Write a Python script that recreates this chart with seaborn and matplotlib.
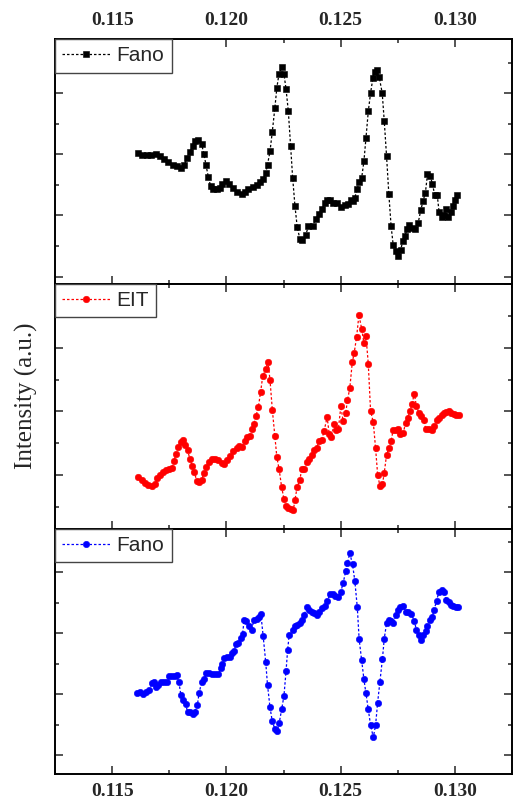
import matplotlib
matplotlib.use("Agg")
import matplotlib.pyplot as plt
from matplotlib.ticker import MultipleLocator, FormatStrFormatter
import pandas as pd
import seaborn as sns

# top panel: Fano (black squares)
fano_top_x = [0.11612, 0.11629, 0.11651, 0.11670, 0.11692, 0.11709, 0.11728, 0.11746, 0.11765, 0.11782,
              0.11801, 0.11816, 0.11829, 0.11841, 0.11852, 0.11864, 0.11878, 0.11892, 0.11902, 0.11911,
              0.11921, 0.11931, 0.11943, 0.11957, 0.11972, 0.11983, 0.11998, 0.12013, 0.12027, 0.12045,
              0.12067, 0.12081, 0.12096, 0.12115, 0.12132, 0.12147, 0.12161, 0.12172, 0.12180, 0.12191,
              0.12201, 0.12212, 0.12221, 0.12230, 0.12242, 0.12252, 0.12261, 0.12271, 0.12281, 0.12290,
              0.12300, 0.12310, 0.12322, 0.12332, 0.12347, 0.12359, 0.12377, 0.12392, 0.12407, 0.12419,
              0.12431, 0.12441, 0.12453, 0.12468, 0.12486, 0.12501, 0.12519, 0.12534, 0.12546, 0.12552,
              0.12562, 0.12573, 0.12581, 0.12592, 0.12602, 0.12611, 0.12621, 0.12631, 0.12641, 0.12650,
              0.12660, 0.12669, 0.12682, 0.12691, 0.12701, 0.12711, 0.12721, 0.12730, 0.12741, 0.12751,
              0.12763, 0.12772, 0.12782, 0.12791, 0.12801, 0.12812, 0.12824, 0.12839, 0.12851, 0.12861,
              0.12871, 0.12880, 0.12892, 0.12902, 0.12912, 0.12923, 0.12931, 0.12943, 0.12953, 0.12961,
              0.12971, 0.12981, 0.12991, 0.13001, 0.13011]
fano_top_y = [3.02, 2.98, 2.99, 2.99, 3.00, 2.97, 2.92, 2.87, 2.82, 2.81,
              2.78, 2.83, 2.94, 3.03, 3.13, 3.21, 3.24, 3.16, 3.00, 2.82,
              2.63, 2.48, 2.44, 2.44, 2.45, 2.51, 2.56, 2.52, 2.45, 2.38,
              2.35, 2.38, 2.43, 2.47, 2.50, 2.54, 2.59, 2.69, 2.83, 3.05,
              3.37, 3.75, 4.09, 4.31, 4.42, 4.31, 4.07, 3.71, 3.14, 2.62,
              2.16, 1.81, 1.61, 1.60, 1.68, 1.82, 1.83, 1.94, 2.02, 2.10,
              2.20, 2.26, 2.25, 2.21, 2.20, 2.13, 2.17, 2.18, 2.25, 2.24,
              2.29, 2.44, 2.54, 2.61, 2.89, 3.27, 3.70, 4.00, 4.24, 4.35,
              4.38, 4.26, 4.00, 3.54, 2.97, 2.35, 1.82, 1.52, 1.42, 1.33,
              1.44, 1.58, 1.67, 1.77, 1.85, 1.80, 1.78, 1.87, 2.09, 2.24,
              2.37, 2.67, 2.65, 2.51, 2.33, 2.33, 2.05, 1.98, 2.00, 2.10,
              1.97, 2.06, 2.16, 2.25, 2.33]

# middle panel: EIT (red circles)
eit_x = [0.11615, 0.11629, 0.11644, 0.11659, 0.11673, 0.11688, 0.11698, 0.11709, 0.11721, 0.11736,
         0.11750, 0.11762, 0.11771, 0.11779, 0.11790, 0.11801, 0.11811, 0.11821, 0.11830, 0.11841,
         0.11851, 0.11860, 0.11870, 0.11881, 0.11892, 0.11902, 0.11913, 0.11925, 0.11935, 0.11950,
         0.11965, 0.11979, 0.11989, 0.12001, 0.12016, 0.12030, 0.12045, 0.12056, 0.12070, 0.12081,
         0.12091, 0.12103, 0.12112, 0.12121, 0.12130, 0.12140, 0.12150, 0.12159, 0.12172, 0.12182,
         0.12191, 0.12201, 0.12212, 0.12221, 0.12231, 0.12242, 0.12252, 0.12261, 0.12271, 0.12282,
         0.12293, 0.12300, 0.12310, 0.12322, 0.12329, 0.12339, 0.12351, 0.12363, 0.12373, 0.12383,
         0.12395, 0.12406, 0.12417, 0.12428, 0.12441, 0.12450, 0.12460, 0.12471, 0.12479, 0.12490,
         0.12501, 0.12511, 0.12522, 0.12530, 0.12540, 0.12551, 0.12559, 0.12570, 0.12580, 0.12592,
         0.12602, 0.12611, 0.12621, 0.12631, 0.12643, 0.12653, 0.12662, 0.12672, 0.12683, 0.12691,
         0.12701, 0.12711, 0.12721, 0.12730, 0.12742, 0.12752, 0.12762, 0.12774, 0.12784, 0.12793,
         0.12803, 0.12813, 0.12822, 0.12832, 0.12842, 0.12853, 0.12864, 0.12873, 0.12885, 0.12898,
         0.12908, 0.12920, 0.12930, 0.12942, 0.12952, 0.12963, 0.12974, 0.12982, 0.12996, 0.13007,
         0.13018]
eit_y = [0.97, 0.93, 0.88, 0.84, 0.83, 0.86, 0.95, 1.00, 1.05, 1.08,
         1.10, 1.12, 1.22, 1.34, 1.45, 1.52, 1.55, 1.47, 1.39, 1.25,
         1.14, 1.05, 0.91, 0.90, 0.93, 1.04, 1.13, 1.21, 1.26, 1.26,
         1.24, 1.19, 1.17, 1.24, 1.30, 1.38, 1.42, 1.46, 1.45, 1.54,
         1.60, 1.62, 1.73, 1.81, 1.93, 2.07, 2.31, 2.55, 2.66, 2.78,
         2.49, 2.03, 1.61, 1.28, 1.09, 0.81, 0.63, 0.52, 0.49, 0.47,
         0.45, 0.61, 0.82, 0.93, 1.09, 1.10, 1.21, 1.25, 1.31, 1.39,
         1.43, 1.54, 1.55, 1.70, 1.91, 1.65, 1.60, 1.80, 1.71, 1.72,
         2.08, 1.85, 1.97, 2.18, 2.36, 2.77, 2.91, 3.17, 3.51, 3.30,
         3.07, 3.18, 2.75, 2.01, 1.83, 1.42, 1.01, 0.83, 0.86, 1.04,
         1.32, 1.42, 1.54, 1.71, 1.71, 1.72, 1.65, 1.66, 1.82, 1.90,
         2.01, 2.12, 2.28, 2.08, 1.98, 1.93, 1.86, 1.72, 1.72, 1.71,
         1.77, 1.86, 1.90, 1.94, 1.98, 1.99, 2.01, 1.98, 1.96, 1.94,
         1.94]

# bottom panel: Fano (blue circles)
fano_bot_x = [0.11607, 0.11622, 0.11634, 0.11648, 0.11663, 0.11673, 0.11683, 0.11692, 0.11702, 0.11714,
              0.11727, 0.11739, 0.11750, 0.11762, 0.11775, 0.11782, 0.11792, 0.11801, 0.11811, 0.11822,
              0.11830, 0.11841, 0.11852, 0.11862, 0.11873, 0.11881, 0.11892, 0.11902, 0.11913, 0.11925,
              0.11938, 0.11950, 0.11965, 0.11975, 0.11983, 0.11991, 0.12001, 0.12016, 0.12023, 0.12033,
              0.12042, 0.12052, 0.12062, 0.12071, 0.12078, 0.12088, 0.12100, 0.12110, 0.12121, 0.12132,
              0.12142, 0.12151, 0.12161, 0.12172, 0.12180, 0.12191, 0.12201, 0.12212, 0.12223, 0.12231,
              0.12242, 0.12252, 0.12261, 0.12268, 0.12275, 0.12290, 0.12300, 0.12310, 0.12322, 0.12332,
              0.12341, 0.12351, 0.12363, 0.12373, 0.12383, 0.12395, 0.12406, 0.12419, 0.12431, 0.12441,
              0.12453, 0.12465, 0.12475, 0.12487, 0.12501, 0.12511, 0.12522, 0.12530, 0.12540, 0.12552,
              0.12562, 0.12573, 0.12581, 0.12592, 0.12602, 0.12611, 0.12621, 0.12631, 0.12643, 0.12653,
              0.12662, 0.12672, 0.12683, 0.12691, 0.12701, 0.12711, 0.12720, 0.12730, 0.12742, 0.12752,
              0.12762, 0.12774, 0.12784, 0.12796, 0.12810, 0.12822, 0.12832, 0.12842, 0.12851, 0.12861,
              0.12872, 0.12880, 0.12890, 0.12901, 0.12909, 0.12920, 0.12930, 0.12942, 0.12953, 0.12963,
              0.12974, 0.12982, 0.12993, 0.13003, 0.13014]
fano_bot_y = [2.02, 2.03, 2.00, 2.04, 2.07, 2.18, 2.19, 2.11, 2.15, 2.19,
              2.19, 2.20, 2.29, 2.30, 2.30, 2.31, 2.19, 1.99, 1.90, 1.83,
              1.71, 1.70, 1.67, 1.71, 1.82, 2.02, 2.20, 2.24, 2.34, 2.35,
              2.33, 2.33, 2.33, 2.42, 2.49, 2.59, 2.60, 2.61, 2.68, 2.70,
              2.82, 2.84, 2.92, 2.99, 3.22, 3.19, 3.12, 3.05, 3.22, 3.23,
              3.27, 3.31, 2.95, 2.53, 2.15, 1.78, 1.55, 1.43, 1.40, 1.52,
              1.75, 1.97, 2.37, 2.72, 2.97, 3.05, 3.11, 3.13, 3.16, 3.22,
              3.30, 3.42, 3.37, 3.34, 3.33, 3.30, 3.35, 3.41, 3.44, 3.52,
              3.64, 3.64, 3.61, 3.59, 3.68, 3.82, 4.01, 4.15, 4.31, 4.13,
              3.86, 3.42, 2.90, 2.56, 2.24, 2.01, 1.75, 1.49, 1.29, 1.49,
              1.86, 2.20, 2.58, 2.91, 3.16, 3.21, 3.20, 3.16, 3.30, 3.38,
              3.42, 3.45, 3.35, 3.34, 3.31, 3.20, 3.05, 2.97, 2.88, 2.97,
              3.04, 3.11, 3.22, 3.27, 3.38, 3.53, 3.67, 3.71, 3.68, 3.55,
              3.51, 3.46, 3.44, 3.42, 3.42]

labels = ['Fano', 'EIT', 'Fano']
colors = ['black', 'red', 'blue']
markers = ['s', 'o', 'o']

sns.set_style("ticks")
plt.rcParams['font.family'] = ['Liberation Serif', 'DejaVu Serif']
plt.rcParams['font.weight'] = 'bold'

fig = plt.figure(figsize=(5.13, 8.02), dpi=100)
gs = fig.add_gridspec(3, 1, left=55/513, right=512/513, top=1-39/802, bottom=1-773.7/802, hspace=0)
axes = [fig.add_subplot(gs[i]) for i in range(3)]

series = [(fano_top_x, fano_top_y), (eit_x, eit_y), (fano_bot_x, fano_bot_y)]
ylims = [(0.88, 4.885), (0.16, 4.0), (0.693, 4.71)]
msizes = [4.2, 4.7, 4.6]

for i, ax in enumerate(axes):
    df = pd.DataFrame({'x': series[i][0], 'y': series[i][1]})
    sns.lineplot(data=df, x='x', y='y', ax=ax, sort=False, estimator=None,
                 color=colors[i], marker=markers[i], markersize=msizes[i],
                 markeredgecolor=colors[i], markeredgewidth=0.4,
                 linestyle=(0, (2, 1.6)), linewidth=0.9, label=labels[i])
    ax.set_xlim(0.1125, 0.1325)
    ax.set_ylim(*ylims[i])
    ax.set_xlabel('')
    ax.set_ylabel('')
    ax.xaxis.set_major_locator(MultipleLocator(0.005))
    ax.xaxis.set_minor_locator(MultipleLocator(0.0025))
    ax.xaxis.set_major_formatter(FormatStrFormatter('%.3f'))
    ax.yaxis.set_major_locator(MultipleLocator(1))
    ax.yaxis.set_minor_locator(MultipleLocator(0.5))
    ax.tick_params(which='both', direction='in', top=True, right=True, bottom=True, left=True,
                   labelleft=False, labelbottom=False, width=1.1, labelsize=14, pad=7)
    ax.tick_params(which='major', length=5.5)
    ax.tick_params(which='minor', length=3)
    for s in ax.spines.values():
        s.set_linewidth(1.4)
        s.set_color('black')
    leg = ax.legend(loc='upper left', borderaxespad=0, fancybox=False, framealpha=1,
                    edgecolor='#444444', handlelength=2.3, handletextpad=0.3,
                    borderpad=0.35, prop={'family': 'Liberation Sans', 'size': 15, 'weight': 'normal'})
    leg.get_frame().set_linewidth(1.0)

axes[0].tick_params(axis='x', labeltop=True)
axes[2].tick_params(axis='x', labelbottom=True)

fig.text(26/513, 1-396/802, 'Intensity (a.u.)', rotation=90, ha='center', va='center',
         fontsize=18, fontweight='normal')

fig.savefig('out.png', dpi=100)
